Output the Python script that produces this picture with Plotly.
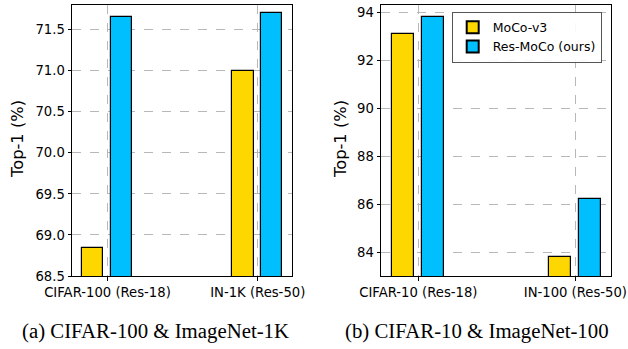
import plotly.graph_objects as go

# ---- data ----
cats_a = ["CIFAR-100 (Res-18)", "IN-1K (Res-50)"]
moco_a = [68.84, 71.0]
res_a = [71.65, 71.70]

cats_b = ["CIFAR-10 (Res-18)", "IN-100 (Res-50)"]
moco_b = [93.1, 83.8]
res_b = [93.8, 86.2]

series_names = ["MoCo-v3", "Res-MoCo (ours)"]
colors = ["#FFD700", "#00BFFF"]

yticks_a = [68.5, 69.0, 69.5, 70.0, 70.5, 71.0, 71.5]
yticks_b = [84, 86, 88, 90, 92, 94]

ytitle = "Top-1 (%)"
captions = ["(a) CIFAR-100 & ImageNet-1K", "(b) CIFAR-10 & ImageNet-100"]

W, H = 628, 349
BAR_W = 0.142
OFFS = [-0.17, 0.022]

fig = go.Figure()

def add_panel(cats, vals_list, xa, ya, showlegend):
    idx = list(range(len(cats)))
    for k, vals in enumerate(vals_list):
        fig.add_trace(go.Bar(
            x=idx, y=vals, width=BAR_W, offset=OFFS[k],
            name=series_names[k], marker=dict(color=colors[k], line=dict(color="black", width=1.2)),
            xaxis=xa, yaxis=ya, showlegend=showlegend,
        ))

add_panel(cats_a, [moco_a, res_a], "x", "y", False)
add_panel(cats_b, [moco_b, res_b], "x2", "y2", True)

tickfont = dict(family="DejaVu Sans", size=13.2, color="black")
grid = dict(showgrid=True, gridcolor="#b8b8b8", griddash="dash", gridwidth=0.8)
common_axis = dict(showline=True, linecolor="black", linewidth=1, mirror=True,
                   ticks="outside", ticklen=3.5, tickcolor="black", tickfont=tickfont,
                   zeroline=False, automargin=False, **grid)
title_font = dict(family="DejaVu Sans", size=16.3, color="black")

ytop = 1 - 5 / H
ybot = 1 - 276 / H

fig.update_layout(
    template="none",
    width=W, height=H,
    margin=dict(l=0, r=0, t=0, b=0, pad=0),
    plot_bgcolor="white", paper_bgcolor="white",
    barmode="overlay",
    bargap=0,
    xaxis=dict(domain=[72 / W, 292 / W], range=[-0.236, 1.228], tickmode="array",
               tickvals=[0, 1], ticktext=cats_a, anchor="y", ticklabelstandoff=1, **common_axis),
    yaxis=dict(domain=[ybot, ytop], range=[68.5, 71.8], tickmode="array", tickvals=yticks_a,
               ticktext=[f"{v:.1f}" for v in yticks_a], anchor="x", **common_axis),
    xaxis2=dict(domain=[381 / W, 610.7 / W], range=[-0.238, 1.225], tickmode="array",
                tickvals=[0, 1], ticktext=cats_b, anchor="y2", ticklabelstandoff=1, **common_axis),
    yaxis2=dict(domain=[ybot, ytop], range=[83.0, 94.32], tickmode="array", tickvals=yticks_b,
                ticktext=[str(v) for v in yticks_b], anchor="x2", **common_axis),
    legend=dict(x=451.7 / W, y=1 - 11.7 / H, xanchor="left", yanchor="top",
                bgcolor="rgba(255,255,255,0.9)", bordercolor="#555555", borderwidth=1,
                font=dict(family="DejaVu Sans", size=12.5, color="black"),
                tracegroupgap=0, itemsizing="constant"),
)

for tx in [17, 340]:
    fig.add_annotation(text=ytitle, x=tx / W, y=1 - 139 / H, xref="paper", yref="paper",
                       xanchor="center", yanchor="middle", textangle=-90, showarrow=False,
                       font=title_font)

for cap, cx in zip(captions, [155.5 / W, 476.5 / W]):
    fig.add_annotation(text=cap, x=cx, y=1 - 331 / H, xref="paper", yref="paper",
                       xanchor="center", yanchor="middle", showarrow=False,
                       font=dict(family="Liberation Serif", size=20.8, color="black"))

fig.write_html("out.html")
